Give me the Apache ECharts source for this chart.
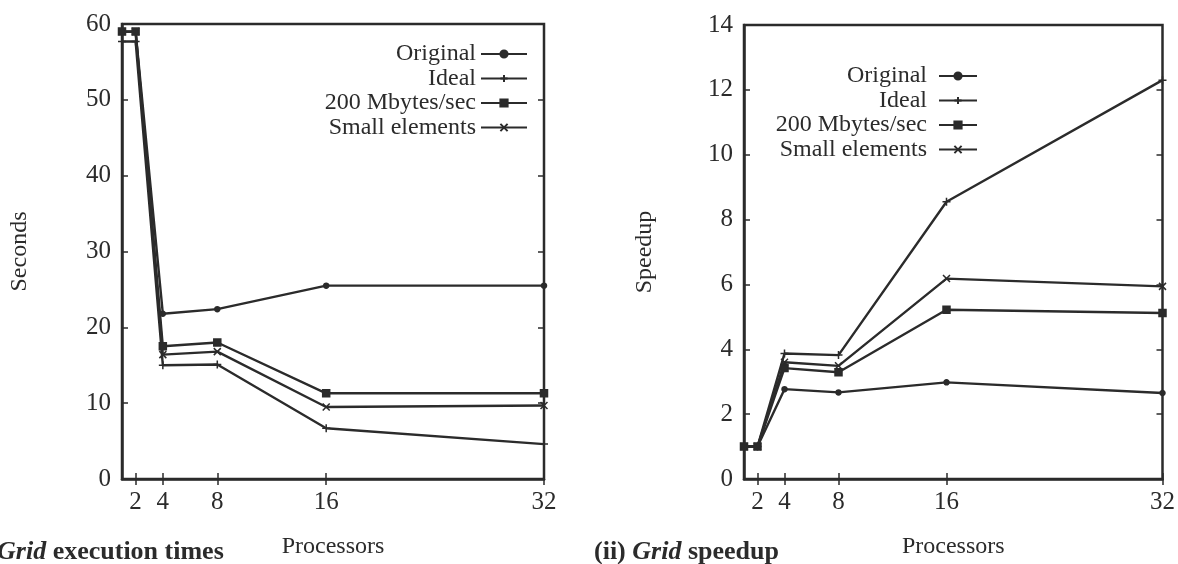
<!DOCTYPE html>
<html>
<head>
<meta charset="utf-8">
<script src="https://cdn.jsdelivr.net/npm/echarts@6.0.0/dist/echarts.min.js"></script>
<style>
	html, body { margin: 0; padding: 0; background: #fff; }
	#chart { width: 1178px; height: 564px; }
</style>
</head>
<body>
<div id="chart"></div>
<script>
	// processor counts (x values) and x tick labels
	var procs = [1, 2, 4, 8, 16, 32]
	var xTicks = [2, 4, 8, 16, 32]

	// (i) execution times, seconds
	var timeOriginal = [59, 59, 21.8, 22.4, 25.5, 25.5]
	var timeIdeal = [57.7, 57.7, 15.0, 15.1, 6.7, 4.6]
	var time200 = [59, 59, 17.5, 18.0, 11.3, 11.3]
	var timeSmall = [59, 59, 16.4, 16.8, 9.5, 9.7]

	// (ii) speedup
	var spOriginal = [1, 1, 2.77, 2.67, 2.98, 2.65]
	var spIdeal = [1, 1, 3.87, 3.82, 8.55, 12.3]
	var sp200 = [1, 1, 3.42, 3.29, 5.22, 5.12]
	var spSmall = [1, 1, 3.6, 3.49, 6.18, 5.94]

	var names = ['Original', 'Ideal', '200 Mbytes/sec', 'Small elements']

	var ink = '#2b2b2b'
	var font = '"Liberation Serif", "DejaVu Serif", serif'

	var symbols = {
		'Original': { symbol: 'circle', size: 5 },
		'Ideal': { symbol: 'path://M5,0V10M0,5H10', size: 8 },
		'200 Mbytes/sec': { symbol: 'rect', size: 7 },
		'Small elements': { symbol: 'path://M0,0L10,10M10,0L0,10', size: 7 }
	}

	function pairs(values) {
		return procs.map(function (p, i) {
			return [p, values[i]]
		})
	}

	function makeSeries(name, values, idx) {
		return {
			name: name,
			type: 'line',
			xAxisIndex: idx * 2,
			yAxisIndex: idx * 2,
			data: pairs(values),
			symbol: symbols[name].symbol,
			symbolSize: symbols[name].size,
			showSymbol: true,
			lineStyle: { color: ink, width: 2.4 },
			itemStyle: { color: ink, borderColor: ink, borderWidth: 1.5 },
			animation: false
		}
	}

	function xAxes(gridIndex, showLabels) {
		return {
			type: 'value',
			gridIndex: gridIndex,
			position: showLabels ? 'bottom' : 'top',
			min: 1,
			max: 32,
			name: showLabels ? 'Processors' : '',
			nameLocation: 'middle',
			nameGap: 56,
			nameTextStyle: { fontFamily: font, fontSize: 24, color: ink },
			axisLine: { show: showLabels, lineStyle: { color: ink, width: 2.5 } },
			axisTick: { inside: true, length: 6, customValues: xTicks, lineStyle: { color: ink, width: 1.5 } },
			axisLabel: { show: showLabels, customValues: xTicks, margin: 11, fontFamily: font, fontSize: 25, color: ink },
			splitLine: { show: false }
		}
	}

	function yAxes(gridIndex, max, interval, name, gap, showLabels) {
		return {
			type: 'value',
			gridIndex: gridIndex,
			position: showLabels ? 'left' : 'right',
			min: 0,
			max: max,
			interval: interval,
			name: showLabels ? name : '',
			nameLocation: 'middle',
			nameGap: gap,
			nameRotate: 90,
			nameTextStyle: { fontFamily: font, fontSize: 24, color: ink },
			axisLine: { show: showLabels, lineStyle: { color: ink, width: 2.5 } },
			axisTick: { inside: true, length: 6, lineStyle: { color: ink, width: 1.5 } },
			axisLabel: { show: showLabels, margin: 11, fontFamily: font, fontSize: 25, color: ink },
			splitLine: { show: false }
		}
	}

	function legend(right, top, iconWidth, textGap) {
		return {
			orient: 'vertical',
			align: 'right',
			right: right,
			top: top,
			padding: 0,
			itemWidth: iconWidth,
			itemHeight: 9,
			itemGap: 0.5,
			selectedMode: false,
			data: names,
			textStyle: { fontFamily: font, fontSize: 24, lineHeight: 20, color: ink, padding: [0, textGap, 0, 0] }
		}
	}

	var rich = {
		n: { fontFamily: font, fontSize: 26, fontWeight: 'bold', fill: ink },
		it: { fontFamily: font, fontSize: 26, fontWeight: 'bold', fontStyle: 'italic', fill: ink }
	}

	var chart = echarts.init(document.getElementById('chart'), null, { renderer: 'canvas' })

	chart.setOption({
		backgroundColor: '#fff',
		animation: false,
		grid: [
			{ left: 122, right: 634, top: 24, bottom: 83, show: true, borderColor: ink, borderWidth: 2.5 },
			{ left: 744, right: 12, top: 25, bottom: 82, show: true, borderColor: ink, borderWidth: 2.5 }
		],
		xAxis: [xAxes(0, true), xAxes(0, false), xAxes(1, true), xAxes(1, false)],
		yAxis: [
			yAxes(0, 60, 10, 'Seconds', 90, true),
			yAxes(0, 60, 10, '', 0, false),
			yAxes(1, 14, 2, 'Speedup', 87, true),
			yAxes(1, 14, 2, '', 0, false)
		],
		legend: [legend(650, 42, 46, 0), legend(200, 64, 38, 7)],
		series: [
			makeSeries('Original', timeOriginal, 0),
			makeSeries('Ideal', timeIdeal, 0),
			makeSeries('200 Mbytes/sec', time200, 0),
			makeSeries('Small elements', timeSmall, 0),
			makeSeries('Original', spOriginal, 1),
			makeSeries('Ideal', spIdeal, 1),
			makeSeries('200 Mbytes/sec', sp200, 1),
			makeSeries('Small elements', spSmall, 1)
		],
		graphic: [
			{
				type: 'text',
				x: -34,
				y: 539,
				style: { text: '{n|(i) }{it|Grid}{n| execution times}', rich: rich }
			},
			{
				type: 'text',
				x: 594,
				y: 539,
				style: { text: '{n|(ii) }{it|Grid}{n| speedup}', rich: rich }
			}
		]
	})
</script>
</body>
</html>
